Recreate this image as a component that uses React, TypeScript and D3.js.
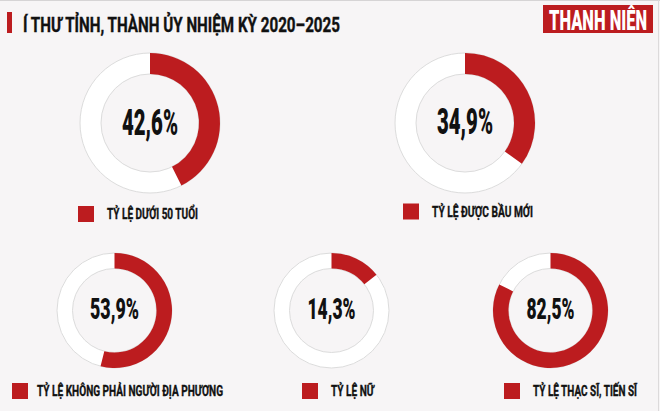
import React from "react";
import * as d3 from "d3";

const titleText = "Í THƯ TỈNH, THÀNH ỦY NHIỆM KỲ 2020–2025";
const logoText = "THANH NIÊN";
const categories = [
  "TỶ LỆ DƯỚI 50 TUỔI",
  "TỶ LỆ ĐƯỢC BẦU MỚI",
  "TỶ LỆ KHÔNG PHẢI NGƯỜI ĐỊA PHƯƠNG",
  "TỶ LỆ NỮ",
  "TỶ LỆ THẠC SĨ, TIẾN SĨ",
];
const values = [42.6, 34.9, 53.9, 14.3, 82.5];

// layout (positions / sizes only)
const layout = [
  { cx: 150, cy: 123, r: 70, ir: 49, pctSize: 37, pctBase: 135, pctW: 56, sqX: 78, sqY: 206, txtX: 107, txtBase: 219, txtW: 91 },
  { cx: 465, cy: 123, r: 70, ir: 49, pctSize: 37, pctBase: 134, pctW: 56, sqX: 403, sqY: 203.5, txtX: 432, txtBase: 216.5, txtW: 101 },
  { cx: 114.5, cy: 310.5, r: 57.5, ir: 42, pctSize: 29, pctBase: 318.7, pctW: 49, sqX: 12, sqY: 383, txtX: 37, txtBase: 395.8, txtW: 186 },
  { cx: 331.5, cy: 310.5, r: 57.5, ir: 42, pctSize: 29, pctBase: 318.7, pctW: 48, sqX: 302, sqY: 383, txtX: 331, txtBase: 395.8, txtW: 43 },
  { cx: 550.5, cy: 310.5, r: 57.5, ir: 42, pctSize: 29, pctBase: 318.7, pctW: 48, sqX: 504, sqY: 383, txtX: 533, txtBase: 396, txtW: 104 },
];

const RED = "#bc1c1f";
const BG = "#f7f5f6";
const FONT = "Roboto, 'Liberation Sans', sans-serif";

const fmt = (v: number) => d3.format(".1f")(v).replace(".", ",") + "%";

export default function App() {
  const W = 660;
  const H = 411;
  const pie = d3.pie<number>().sort(null).value((d) => d);
  return (
    <svg
      width={W}
      height={H}
      style={{ position: "absolute", left: 0, top: 0, display: "block" }}
      fontFamily={FONT}
    >
      <rect x={0} y={0} width={W} height={H} fill={BG} />
      <line x1={0} x2={W} y1={0.5} y2={0.5} stroke="#d6d4d5" />
      <line x1={658.5} x2={658.5} y1={0} y2={H} stroke="#dcdadb" />

      {/* header */}
      <rect x={7} y={12} width={5} height={21} fill={RED} />
      <text
        x={23}
        y={32}
        fontSize={21}
        fontWeight={700}
        fill="#111"
        stroke="#111"
        strokeWidth={0.4}
        textLength={317}
        lengthAdjust="spacingAndGlyphs"
      >
        {titleText}
      </text>
      <rect x={543} y={5} width={110} height={28} fill={RED} />
      <text
        x={549}
        y={30}
        fontSize={28}
        fontWeight={900}
        fill="#fff"
        textLength={98}
        lengthAdjust="spacingAndGlyphs"
      >
        {logoText}
      </text>

      {values.map((v, i) => {
        const L = layout[i];
        const arcs = pie([v, 100 - v]);
        const arc = d3.arc<d3.PieArcDatum<number>>().innerRadius(L.ir).outerRadius(L.r);
        return (
          <g key={i}>
            <g transform={`translate(${L.cx},${L.cy})`}>
              <circle r={(L.r + L.ir) / 2} fill="none" stroke="#fff" strokeWidth={L.r - L.ir} />
              <circle r={L.r} fill="none" stroke="#dcdcdc" strokeWidth={1} />
              <circle r={L.ir} fill="none" stroke="#dcdcdc" strokeWidth={1} />
              <path d={arc(arcs[0]) || ""} fill={RED} />
            </g>
            <text
              x={L.cx - L.pctW / 2}
              y={L.pctBase}
              fontSize={L.pctSize}
              fontWeight={900}
              fill="#111"
              textLength={L.pctW}
              lengthAdjust="spacingAndGlyphs"
            >
              {fmt(v)}
            </text>
            <rect x={L.sqX} y={L.sqY} width={16} height={16} fill={RED} />
            <text
              x={L.txtX}
              y={L.txtBase}
              fontSize={14}
              fontWeight={700}
              fill="#111"
              stroke="#111"
              strokeWidth={0.35}
              textLength={L.txtW}
              lengthAdjust="spacingAndGlyphs"
            >
              {categories[i]}
            </text>
          </g>
        );
      })}
    </svg>
  );
}
